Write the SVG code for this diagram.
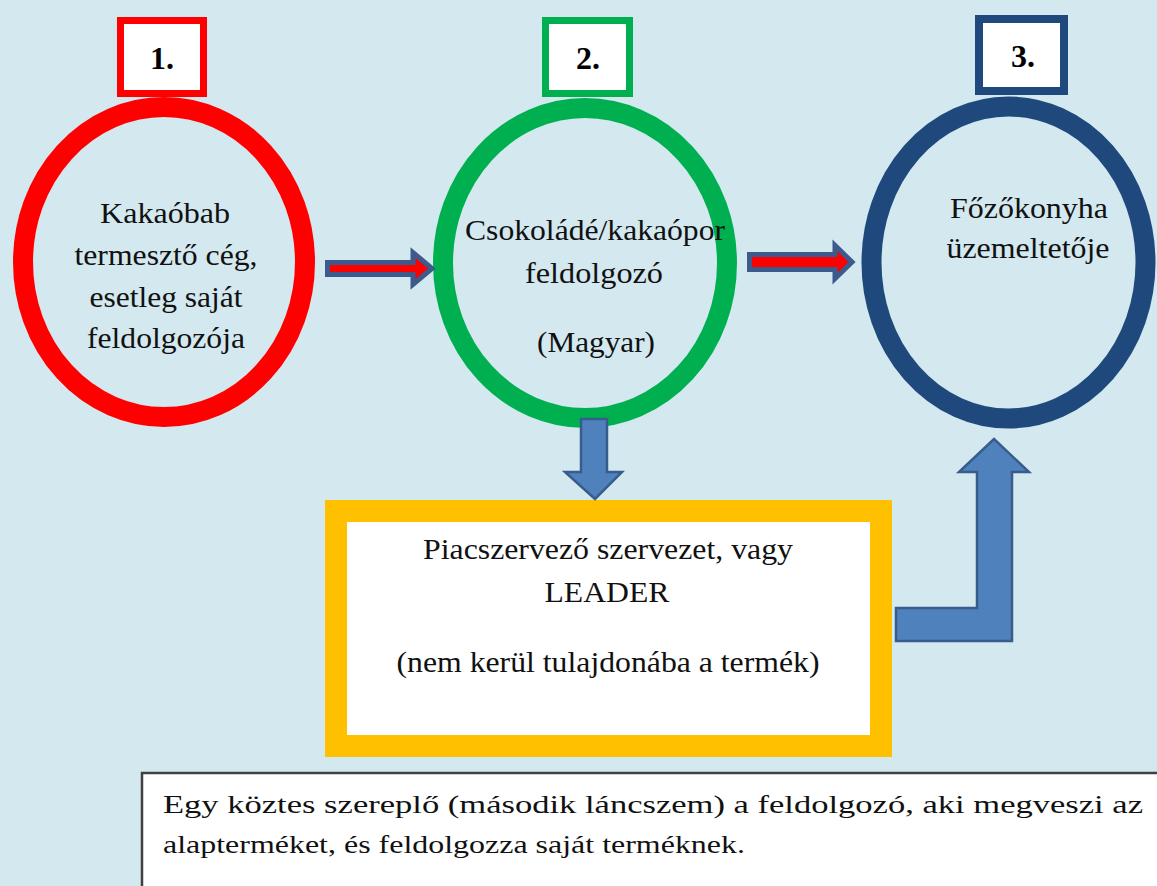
<svg xmlns="http://www.w3.org/2000/svg" width="1157" height="886" viewBox="0 0 1157 886">
<style>
.t{font-family:"Liberation Serif","Times New Roman",serif;font-size:30px;fill:#111;text-anchor:middle}
.n{font-family:"Liberation Serif","Times New Roman",serif;font-size:32px;font-weight:bold;fill:#000;text-anchor:middle}
.b{font-family:"Liberation Serif","Times New Roman",serif;font-size:26px;fill:#111}
.ring{fill:none;stroke-width:20}
.numbox{fill:#fff;stroke-width:7}
.redarrow{fill:#ff0000;stroke:#3c5a8c;stroke-width:5;stroke-linejoin:miter}
.bluearrow{fill:#4f81bd;stroke:#385d8a;stroke-width:2.5;stroke-linejoin:miter}
</style>
<rect x="0" y="0" width="1157" height="886" fill="#d3e8ef"/>

<g id="node1">
  <ellipse class="ring" cx="164" cy="262" rx="141" ry="155" stroke="#ff0000"/>
  <rect class="numbox" x="120.5" y="20.5" width="83" height="73" stroke="#ff0000"/>
  <text class="n" x="162" y="69">1.</text>
  <text class="t" x="165" y="223" textLength="130" lengthAdjust="spacingAndGlyphs">Kakaóbab</text>
  <text class="t" x="166" y="265" textLength="183" lengthAdjust="spacingAndGlyphs">termesztő cég,</text>
  <text class="t" x="166" y="307" textLength="153" lengthAdjust="spacingAndGlyphs">esetleg saját</text>
  <text class="t" x="166" y="348" textLength="158" lengthAdjust="spacingAndGlyphs">feldolgozója</text>
</g>

<g id="node2">
  <ellipse class="ring" cx="585" cy="263" rx="142" ry="155" stroke="#00b050"/>
  <rect class="numbox" x="545.5" y="20.5" width="84" height="73" stroke="#00b050"/>
  <text class="n" x="588" y="69">2.</text>
  <text class="t" x="595" y="240" textLength="260" lengthAdjust="spacingAndGlyphs">Csokoládé/kakaópor</text>
  <text class="t" x="594" y="283" textLength="138" lengthAdjust="spacingAndGlyphs">feldolgozó</text>
  <text class="t" x="596" y="352" textLength="118" lengthAdjust="spacingAndGlyphs">(Magyar)</text>
</g>

<g id="node3">
  <ellipse class="ring" cx="1008.5" cy="262.5" rx="137" ry="156" stroke="#1f497d" stroke-width="19"/>
  <rect x="979" y="19" width="85" height="72" fill="#fff" stroke="#1f497d" stroke-width="8"/>
  <text class="n" x="1023" y="67">3.</text>
  <text class="t" x="1029" y="218" textLength="158" lengthAdjust="spacingAndGlyphs">Főzőkonyha</text>
  <text class="t" x="1028" y="258" textLength="163" lengthAdjust="spacingAndGlyphs">üzemeltetője</text>
</g>

<g id="node4">
  <rect x="336" y="511" width="545" height="235" fill="#fff" stroke="#ffc000" stroke-width="22"/>
  <text class="t" x="608" y="559" textLength="370" lengthAdjust="spacingAndGlyphs">Piacszervező szervezet, vagy</text>
  <text class="t" x="607" y="602" textLength="125" lengthAdjust="spacingAndGlyphs">LEADER</text>
  <text class="t" x="608" y="672" textLength="423" lengthAdjust="spacingAndGlyphs">(nem kerül tulajdonába a termék)</text>
</g>

<g id="note">
  <rect x="142" y="773" width="1030" height="130" fill="#fff" stroke="#404040" stroke-width="2.5"/>
  <text class="b" x="163" y="813" textLength="980" lengthAdjust="spacingAndGlyphs">Egy köztes szereplő (második láncszem) a feldolgozó, aki megveszi az</text>
  <text class="b" x="163" y="853" textLength="582" lengthAdjust="spacingAndGlyphs">alapterméket, és feldolgozza saját terméknek.</text>
</g>

<g id="connectors">
  <polygon class="redarrow" points="327.5,262.5 413,262.5 413,252.5 432,268.5 413,284.5 413,274.5 327.5,274.5"/>
  <polygon class="redarrow" points="749.5,254.5 835,254.5 835,245.5 852,262 835,278.5 835,269.5 749.5,269.5"/>
  <polygon class="bluearrow" points="581,419 607,419 607,472 622,472 595,499 565,472 581,472"/>
  <polygon class="bluearrow" points="896,608 977,608 977,472 959,472 994,439 1029,472 1012,472 1012,641 896,641"/>
</g>
</svg>
